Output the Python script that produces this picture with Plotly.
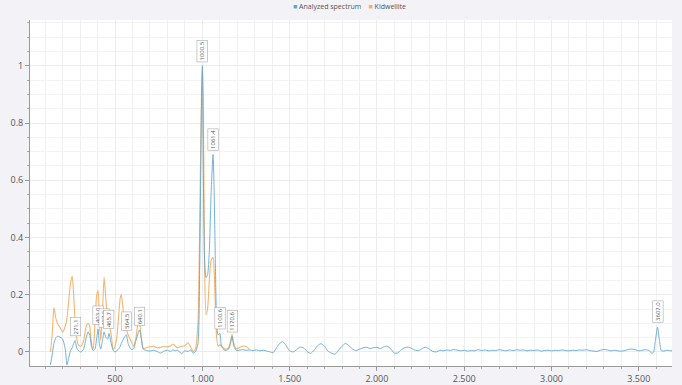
import plotly.graph_objects as go

# Low-wavenumber region (cm-1), both spectra sampled on the same grid
x_low = [130, 140, 150, 160, 170, 185, 200, 215, 225, 235, 245, 255, 263, 271.1, 280,
         290, 305, 320, 335, 345, 355, 365, 375, 385, 395, 403.0, 410, 418, 428, 437.5,
         448, 458, 465.7, 478, 490, 500, 510, 520, 530, 536, 548, 564.5, 575, 590, 605,
         620, 632, 640.1, 650, 662, 680, 700, 720, 740, 760, 780, 800, 820, 832, 845,
         860, 880, 900, 918, 935, 947, 960, 975, 985, 995, 1000.5, 1006, 1013, 1021,
         1030, 1040, 1050, 1061.4, 1068, 1075, 1082, 1090, 1100.6, 1110, 1130, 1150,
         1162, 1170.6, 1180, 1195, 1210, 1230, 1250, 1270]

analyzed_low = [-0.045, -0.01, 0.03, 0.048, 0.055, 0.052, 0.045, 0.01, -0.045, -0.02, 0.005, 0.015,
                0.03, 0.04, 0.015, 0.005, 0.0, 0.01, 0.05, 0.07, 0.06, 0.02, 0.005, 0.01,
                0.05, 0.08, 0.03, 0.01, 0.04, 0.07, 0.05, 0.045, 0.065, 0.03, 0.005, 0.0,
                0.005, 0.01, 0.02, 0.03, 0.045, 0.06, 0.03, 0.01, 0.01, 0.04, 0.065, 0.077,
                0.05, 0.01, 0.005, 0.003, 0.006, 0.002, -0.004, 0.003, 0.006, 0.002, 0.008,
                0.004, 0.006, -0.006, 0.004, 0.002, 0.007, -0.004, 0.0, 0.03, 0.3, 0.85,
                1.0, 0.6, 0.32, 0.26, 0.27, 0.35, 0.55, 0.69, 0.55, 0.3, 0.1, 0.06, 0.065,
                0.02, 0.005, 0.01, 0.03, 0.055, 0.02, 0.005, 0.006, 0.008, 0.006, 0.007]

kidwellite_low = [0.0, 0.06, 0.155, 0.12, 0.1, 0.085, 0.07, 0.09, 0.12, 0.18, 0.24, 0.265,
                  0.2, 0.11, 0.05, 0.025, 0.02, 0.04, 0.09, 0.1, 0.09, 0.03, 0.01, 0.1,
                  0.2, 0.215, 0.12, 0.04, 0.14, 0.262, 0.18, 0.12, 0.1, 0.06, 0.01, 0.02,
                  0.05, 0.12, 0.19, 0.2, 0.14, 0.08, 0.06, 0.04, 0.02, 0.05, 0.1, 0.105,
                  0.05, 0.012, 0.015, 0.018, 0.02, 0.015, 0.016, 0.02, 0.018, 0.022, 0.028,
                  0.02, 0.015, 0.02, 0.022, 0.032, 0.015, 0.002, 0.01, 0.1, 0.45, 0.9,
                  1.0, 0.85, 0.3, 0.13, 0.15, 0.25, 0.32, 0.33, 0.28, 0.15, 0.05, 0.02,
                  0.025, 0.02, 0.01, 0.015, 0.04, 0.062, 0.03, 0.01, 0.015, 0.02, 0.02, 0.01]

# Analyzed spectrum continues alone above 1270 cm-1
x_high = [1290, 1310, 1330, 1350, 1370, 1390, 1405, 1420, 1440, 1460, 1480, 1500, 1520, 1540,
          1560, 1580, 1600, 1620, 1640, 1660, 1680, 1700, 1720, 1740, 1760, 1780, 1800,
          1820, 1840, 1860, 1880, 1900, 1920, 1940, 1960, 1980, 2000, 2020, 2040, 2060,
          2080, 2100, 2120, 2140, 2160, 2180, 2200, 2220, 2240, 2260, 2280, 2300, 2320,
          2340, 2360, 2380, 2400, 2420, 2440, 2460, 2480, 2500, 2520, 2540, 2560, 2580,
          2600, 2620, 2640, 2660, 2680, 2700, 2720, 2740, 2760, 2780, 2800, 2820, 2840,
          2860, 2880, 2900, 2920, 2940, 2960, 2980, 3000, 3020, 3040, 3060, 3080, 3100,
          3120, 3140, 3160, 3180, 3200, 3220, 3240, 3260, 3280, 3300, 3320, 3340, 3360,
          3380, 3400, 3420, 3440, 3460, 3480, 3500, 3520, 3540, 3560, 3575, 3585, 3595,
          3607.0, 3618, 3628, 3640, 3660, 3675, 3690]

analyzed_high = [0.005, 0.007, 0.004, 0.006, 0.003, 0.0, -0.003, 0.01, 0.028, 0.036, 0.022,
                 0.004, 0.0, 0.008, 0.017, 0.014, 0.002, -0.005, 0.006, 0.022, 0.029, 0.02,
                 0.003, -0.004, -0.008, 0.006, 0.02, 0.03, 0.022, 0.01, 0.005, 0.01, 0.014,
                 0.017, 0.012, 0.015, 0.016, 0.012, 0.018, 0.02, 0.01, -0.004, -0.003, 0.008,
                 0.015, 0.017, 0.012, 0.006, 0.005, 0.012, 0.017, 0.01, 0.002, 0.0, 0.006,
                 0.004, 0.007, 0.005, 0.009, 0.006, 0.004, 0.006, 0.003, 0.005, 0.004, 0.008,
                 0.005, 0.007, 0.004, 0.006, 0.005, 0.008, 0.006, 0.004, 0.007, 0.005, 0.008,
                 0.006, 0.007, 0.004, 0.006, 0.005, 0.007, 0.003, 0.005, 0.006, 0.004, 0.006,
                 0.005, 0.007, 0.005, 0.004, 0.006, 0.005, 0.007, 0.006, 0.008, 0.005, 0.003,
                 0.002, 0.006, 0.009, 0.007, 0.004, 0.006, 0.004, 0.003, 0.005, 0.009, 0.01,
                 0.008, 0.004, 0.006, 0.008, 0.005, -0.005, 0.0, 0.04, 0.087, 0.04, 0.005,
                 0.003, 0.006, 0.005, 0.004]

# Labelled peaks of the analyzed spectrum
peak_x = [271.1, 403.0, 437.5, 465.7, 564.5, 640.1, 1000.5, 1061.4, 1100.6, 1170.6, 3607.0]
peak_y = [0.04, 0.08, 0.07, 0.065, 0.06, 0.077, 1.0, 0.69, 0.065, 0.055, 0.087]

x_ticks = [500, 1000, 1500, 2000, 2500, 3000, 3500]
x_tick_text = ["500", "1.000", "1.500", "2.000", "2.500", "3.000", "3.500"]
y_ticks = [0, 0.2, 0.4, 0.6, 0.8, 1]
y_tick_text = ["0", "0.2", "0.4", "0.6", "0.8", "1"]

series_names = ["Analyzed spectrum", "Kidwellite"]
BLUE = "#5aa5d0"
ORANGE = "#f6ad60"

fig = go.Figure()
fig.add_trace(go.Scatter(x=x_low, y=kidwellite_low, mode="lines", name=series_names[1],
                         line=dict(color=ORANGE, width=1.1, shape="spline", smoothing=0.6),
                         opacity=0.9, showlegend=False))
fig.add_trace(go.Scatter(x=x_low + x_high, y=analyzed_low + analyzed_high, mode="lines",
                         name=series_names[0],
                         line=dict(color=BLUE, width=1.0, shape="spline", smoothing=0.6),
                         opacity=0.85, showlegend=False))

for px, py in zip(peak_x, peak_y):
    fig.add_annotation(x=px, y=py, text=f"{px:.1f}", showarrow=False, textangle=-90,
                       yanchor="bottom", yshift=4, font=dict(size=6, color="#555"),
                       bgcolor="white", bordercolor="#aaa", borderwidth=0.6, borderpad=1)

# Compact legend row above the plot
legend_text = (f'<span style="color:{BLUE}">■</span> {series_names[0]}'
               f'&nbsp;&nbsp;&nbsp;&nbsp;'
               f'<span style="color:{ORANGE}">■</span> {series_names[1]}')
fig.add_annotation(xref="paper", yref="paper", x=0.497, y=1.0376, text=legend_text,
                   showarrow=False, xanchor="center", yanchor="middle",
                   font=dict(size=7, color="#555"))

fig.update_layout(
    width=682, height=385,
    margin=dict(l=30, r=10, t=20, b=19, autoexpand=False),
    paper_bgcolor="#f3f2f7",
    plot_bgcolor="white",
    font=dict(family="Open Sans, sans-serif", color="#555"),
    showlegend=False,
)
fig.update_xaxes(range=[13, 3690], tickvals=x_ticks, ticktext=x_tick_text,
                 tickfont=dict(size=9, color="#555"), ticks="outside", ticklen=4,
                 tickcolor="#999", showline=True, linecolor="#999", linewidth=1,
                 showgrid=True, gridcolor="#ececec", gridwidth=1, zeroline=False,
                 automargin=False,
                 minor=dict(dtick=100, tick0=0, showgrid=True, gridcolor="#f0f0f0",
                            ticks="outside", ticklen=2, tickcolor="#aaa"))
fig.update_yaxes(range=[-0.049, 1.16], tickvals=y_ticks, ticktext=y_tick_text,
                 tickfont=dict(size=9, color="#555"), ticks="outside", ticklen=4,
                 tickcolor="#999", showline=True, linecolor="#999", linewidth=1,
                 showgrid=True, gridcolor="#ececec", gridwidth=1, zeroline=False,
                 automargin=False,
                 minor=dict(dtick=0.05, tick0=0, showgrid=True, gridcolor="#f3f3f3",
                            ticks="outside", ticklen=2, tickcolor="#aaa"))

fig.write_html("out.html")
